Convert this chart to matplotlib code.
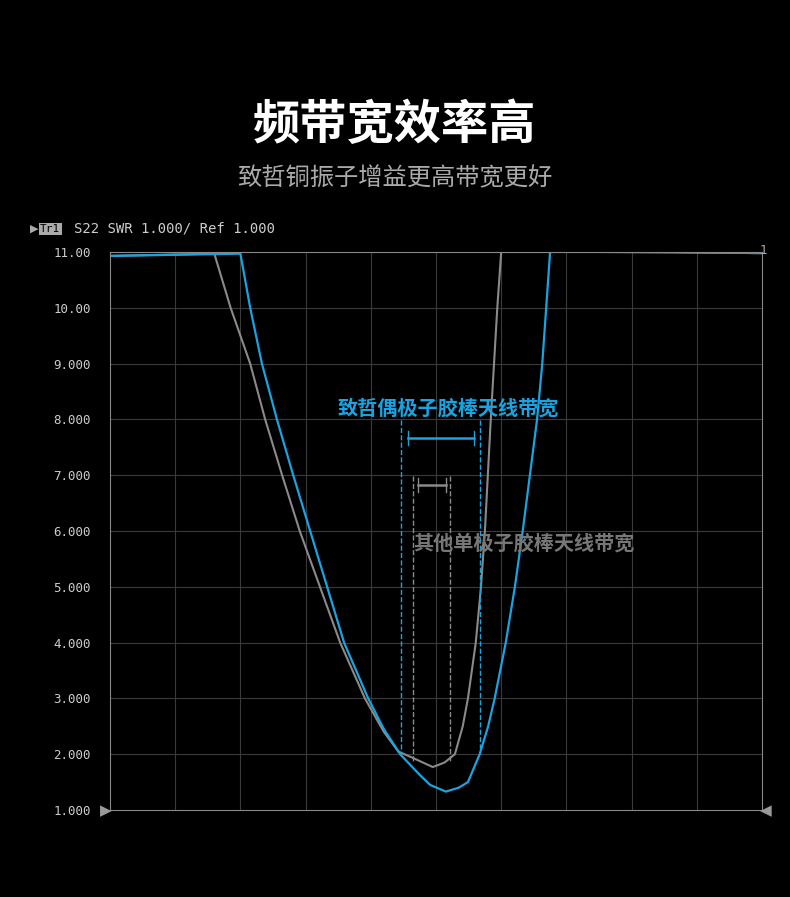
import matplotlib.pyplot as plt

plt.rcParams['font.family'] = ['Noto Sans CJK SC', 'DejaVu Sans']

# x in grid divisions (0..10), y = SWR
blue_x = [0, 2.0, 2.15, 2.33, 2.56, 2.81, 3.07, 3.33, 3.59, 3.96, 4.2, 4.45, 4.75, 4.91, 5.15, 5.35, 5.49, 5.67, 5.80, 5.90, 6.07, 6.21, 6.33, 6.44, 6.55, 6.63, 6.69, 6.75, 7.5, 10]
blue_y = [10.93, 10.97, 10.0, 9.0, 8.0, 7.0, 6.0, 5.0, 4.0, 3.0, 2.45, 2.0, 1.63, 1.45, 1.33, 1.4, 1.5, 2.0, 2.5, 3.0, 4.0, 5.0, 6.0, 7.0, 8.0, 9.0, 10.0, 11.0, 11.02, 10.98]
gray_x = [0, 1.6, 1.85, 2.15, 2.38, 2.64, 2.91, 3.22, 3.53, 3.91, 4.2, 4.42, 4.67, 4.95, 5.13, 5.29, 5.41, 5.49, 5.61, 5.69, 5.75, 5.84, 5.94, 6.0, 7.5, 10]
gray_y = [10.93, 10.97, 10.0, 9.0, 8.0, 7.0, 6.0, 5.0, 4.0, 3.0, 2.4, 2.05, 1.92, 1.77, 1.85, 2.0, 2.5, 3.0, 4.0, 5.0, 6.0, 8.0, 10.0, 11.0, 11.0, 10.98]
yticks = [1, 2, 3, 4, 5, 6, 7, 8, 9, 10, 11]
ylabels = ['1.000', '2.000', '3.000', '4.000', '5.000', '6.000', '7.000', '8.000', '9.000', '10.00', '11.00']

BLUE = '#1aa3e0'
GRAY = '#8a8a8a'

fig = plt.figure(figsize=(7.9, 8.97), dpi=100, facecolor='black')
ax = fig.add_axes([110/790, 1-810/897, 652/790, 558/897], facecolor='black')
ax.set_xlim(0, 10)
ax.set_ylim(1, 11)
for i in range(1, 10):
    ax.axvline(i, color='#3a3a3a', lw=0.8)
for v in range(2, 11):
    ax.axhline(v, color='#3a3a3a', lw=0.8)
for s in ax.spines.values():
    s.set_color('#888888')
ax.set_xticks([])
ax.set_yticks(yticks)
ax.set_yticklabels(ylabels, family='DejaVu Sans Mono', fontsize=9, color='#cccccc')
ax.tick_params(axis='y', length=0, pad=14)

ax.plot(gray_x, gray_y, color=GRAY, lw=1.5)
ax.plot(blue_x, blue_y, color=BLUE, lw=1.6)

# bandwidth markers
def px(x):
    return (x - 110) / 65.2
def py(y):
    return 1 + (810 - y) / 55.8

for xx in (401, 480):
    ax.plot([px(xx)]*2, [py(420), py(754)], color=BLUE, lw=1, ls='--')
ax.plot([px(408), px(474)], [py(438)]*2, color=BLUE, lw=1.8)
for xx in (408, 474):
    ax.plot([px(xx)]*2, [py(431), py(445)], color=BLUE, lw=1)
for xx in (413, 450):
    ax.plot([px(xx)]*2, [py(476), py(762)], color=GRAY, lw=1, ls='--')
ax.plot([px(418), px(446)], [py(485)]*2, color=GRAY, lw=1.8)
for xx in (418, 446):
    ax.plot([px(xx)]*2, [py(478), py(492)], color=GRAY, lw=1)
ax.text(px(448), py(408), '致哲偶极子胶棒天线带宽', color=BLUE, fontsize=14.5,
        fontweight='bold', ha='center', va='center')
ax.text(px(524), py(543), '其他单极子胶棒天线带宽', color='#777777', fontsize=14.5,
        fontweight='bold', ha='center', va='center')

fig.text(0.5, 1-125/897, '频带宽效率高', color='white', fontsize=34,
         fontweight='bold', ha='center', va='center')
fig.text(0.5, 1-178/897, '致哲铜振子增益更高带宽更好', color='#aaaaaa', fontsize=17.5,
         ha='center', va='center')
fig.text(40/790, 1-229/897, 'Tr1', color='black', fontsize=8, family='DejaVu Sans Mono',
         va='center', bbox=dict(facecolor='#aaaaaa', edgecolor='none', pad=1))
fig.text(30/790, 1-229/897, '▶', color='#aaaaaa', fontsize=8, va='center', family='DejaVu Sans')
fig.text(74/790, 1-229/897, 'S22 SWR 1.000/ Ref 1.000', color='#cccccc', fontsize=10,
         family='DejaVu Sans Mono', va='center')
fig.text(760/790, 1-251/897, '1', color='#aaaaaa', fontsize=9, family='DejaVu Sans Mono', va='center')
fig.text(100/790, 1-811/897, '▶', color='#999999', fontsize=11, va='center', family='DejaVu Sans')
fig.text(760/790, 1-811/897, '◀', color='#999999', fontsize=11, va='center', family='DejaVu Sans')

fig.savefig('out.png', facecolor='black')
